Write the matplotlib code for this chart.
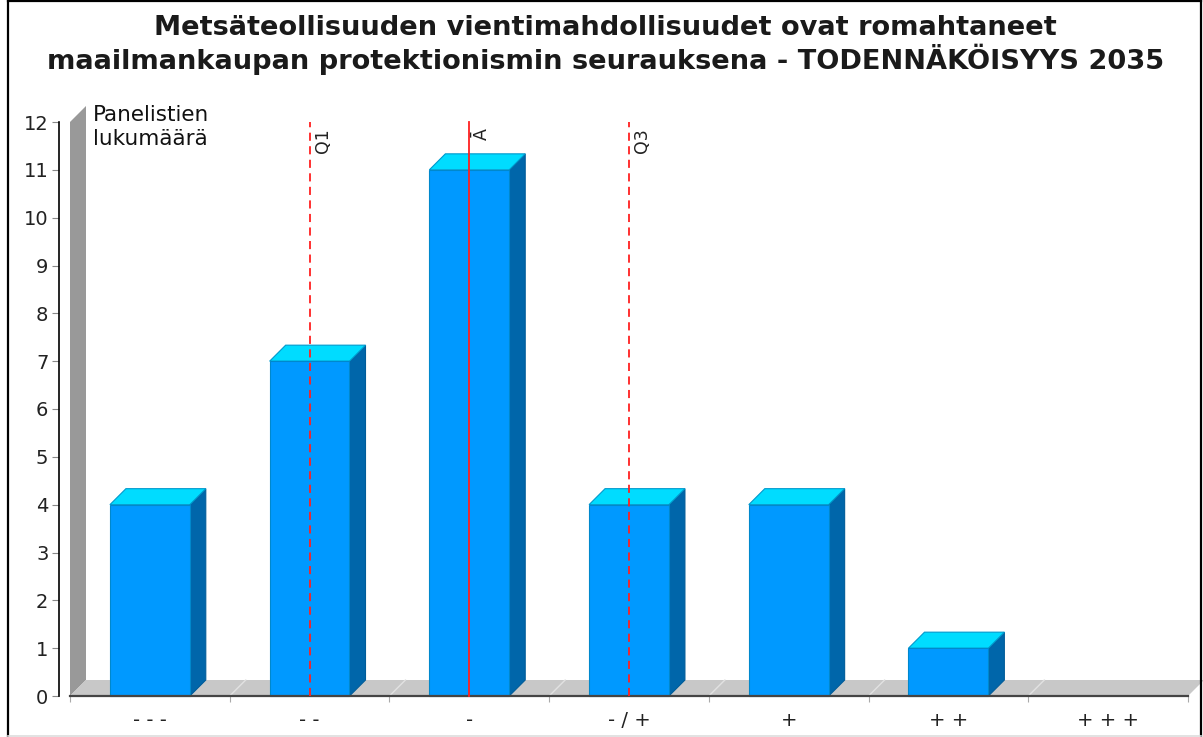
import matplotlib
matplotlib.use("Agg")
import matplotlib.pyplot as plt
from matplotlib.patches import Polygon, Rectangle
from matplotlib.lines import Line2D

# ---- data ----
categories = ["- - -", "- -", "-", "- / +", "+", "+ +", "+ + +"]
counts = [4, 7, 11, 4, 4, 1, 0]
marker_labels = ["Q1", "Ā", "Q3"]
marker_categories = [2, 3, 4]          # 1-based category positions
marker_styles = ["--", "-", "--"]
title = ("Metsäteollisuuden vientimahdollisuudet ovat romahtaneet\n"
         "maailmankaupan protektionismin seurauksena - TODENNÄKÖISYYS 2035")
ylabel = "Panelistien\nlukumäärä"
y_ticks = list(range(0, 13))

W, H = 1203, 737
fig = plt.figure(figsize=(W / 100, H / 100), dpi=100)
plt.rcParams['font.family'] = ['DejaVu Sans']

# axes area in pixels
L, R, B, T = 70, 1188, 696, 122
ax = fig.add_axes([L / W, (H - B) / H, (R - L) / W, (B - T) / H])
n = len(categories)
ymax = 12
ax.set_xlim(0, n)
ax.set_ylim(0, ymax)

# 3D depth in data units
px_x = n / (R - L)
px_y = ymax / (B - T)
dx = 16 * px_x
dy = 16 * px_y

# wall and floor
ax.add_patch(Polygon([(0, 0), (0, ymax), (dx, ymax + dy), (dx, dy)],
                     closed=True, facecolor="#999999", edgecolor="none",
                     clip_on=False, zorder=1))
ax.add_patch(Polygon([(0, 0), (dx, dy), (n + dx, dy), (n, 0)],
                     closed=True, facecolor="#c8c8c8", edgecolor="none",
                     clip_on=False, zorder=1))
for b in range(1, n):
    ax.add_line(Line2D([b, b + dx], [0, dy], color="#e2e2e2", lw=1.0,
                       clip_on=False, zorder=1.5))

# bars
bw = 0.5
for i, v in enumerate(counts):
    if v <= 0:
        continue
    x0 = i + 0.5 - bw / 2
    x1 = i + 0.5 + bw / 2
    ax.add_patch(Polygon([(x1, 0), (x1 + dx, dy), (x1 + dx, v + dy), (x1, v)],
                         closed=True, facecolor="#0066aa", edgecolor="#005c99",
                         lw=0.8, clip_on=False, zorder=3))
    ax.add_patch(Polygon([(x0, v), (x0 + dx, v + dy), (x1 + dx, v + dy), (x1, v)],
                         closed=True, facecolor="#00dcff", edgecolor="#0099cc",
                         lw=0.8, clip_on=False, zorder=3))
    ax.add_patch(Rectangle((x0, 0), bw, v, facecolor="#0099ff",
                           edgecolor="#0088cc", lw=0.8, clip_on=False, zorder=4))

# bottom axis line
ax.add_line(Line2D([0, n], [0, 0], color="#444444", lw=1.6, clip_on=False, zorder=5))

# marker lines
for lab, c, ls in zip(marker_labels, marker_categories, marker_styles):
    xm = c - 0.5
    if ls == "--":
        ax.add_line(Line2D([xm, xm], [0, ymax], color="#ff2020", lw=1.3,
                           linestyle=(0, (4.5, 3)), zorder=6, clip_on=False))
    else:
        ax.add_line(Line2D([xm, xm], [0, ymax], color="#ff2020", lw=1.3,
                           zorder=6, clip_on=False))
    ax.text(xm + 4 * px_x, ymax - 6 * px_y, lab, rotation=90, ha="left",
            va="top", fontsize=12.5, color="#222222", zorder=7)

# spines / ticks
for s in ["top", "right", "bottom"]:
    ax.spines[s].set_visible(False)
ax.spines["left"].set_position(("outward", 8))
ax.spines["left"].set_color("#000000")
ax.spines["left"].set_linewidth(1.2)
ax.set_yticks(y_ticks)
ax.tick_params(axis="y", direction="out", length=5, width=0.8, color="#888888",
               labelsize=14, pad=2.5, labelcolor="#222222")
ax.set_xticks(range(0, n + 1))
ax.set_xticklabels([])
ax.set_xticks([i + 0.5 for i in range(n)], minor=True)
ax.set_xticklabels(categories, minor=True)
ax.tick_params(axis="x", which="major", direction="out", length=4, width=0.8,
               color="#aaaaaa")
ax.tick_params(axis="x", which="minor", length=0, labelsize=14, pad=11,
               labelcolor="#222222")
ax.set_facecolor("none")

# y label inside the plot at top-left
fig.text(93 / W, 1 - 105 / H, ylabel, ha="left", va="top", fontsize=15.5,
         color="#111111", linespacing=1.25)

# title
fig.text(0.5 + 8 / W / 2, 1 - 45 / H, title, ha="center", va="center",
         fontsize=19.6, fontweight="bold", color="#1a1a1a", linespacing=1.1)

# border
fig.add_artist(Line2D([8 / W, 8 / W], [0.0, 1 - 1 / H], transform=fig.transFigure,
                      color="black", lw=1.6))
fig.add_artist(Line2D([8 / W, 1201 / W], [1 - 1 / H, 1 - 1 / H], transform=fig.transFigure,
                      color="black", lw=1.6))
fig.add_artist(Line2D([1201 / W, 1201 / W], [0.0, 1 - 1 / H], transform=fig.transFigure,
                      color="black", lw=1.6))
fig.add_artist(Line2D([8 / W, 1201 / W], [1.5 / H, 1.5 / H], transform=fig.transFigure,
                      color="#dddddd", lw=1.2))

fig.savefig("out.png", dpi=100)
